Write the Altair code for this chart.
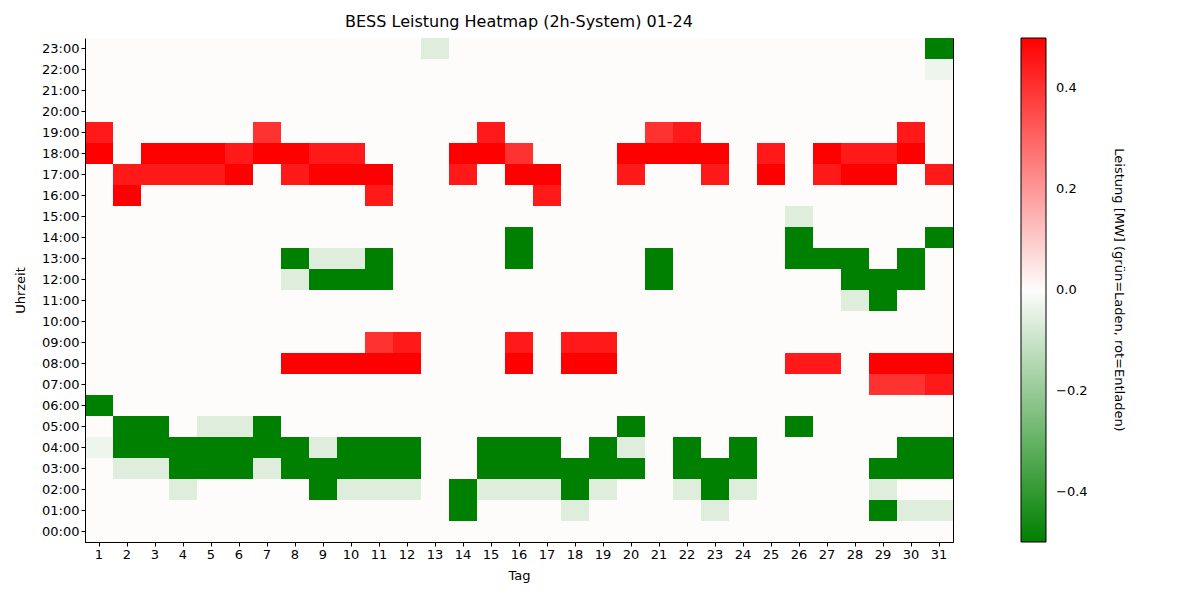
import altair as alt
import pandas as pd

# Leistung [MW] per Tag (1..31) for each hour of the day
# positive = Entladen (rot), negative = Laden (gruen)
days = list(range(1, 32))
hours = ["%02d:00" % h for h in range(24)]

#        days 1-10                                              | 11-20                                                  | 21-31
h00 = [0, 0, 0, 0, 0, 0, 0, 0, 0, 0,  0, 0, 0, 0, 0, 0, 0, 0, 0, 0,  0, 0, 0, 0, 0, 0, 0, 0, 0, 0, 0]
h01 = [0, 0, 0, 0, 0, 0, 0, 0, 0, 0,  0, 0, 0, -0.5, 0, 0, 0, -0.06, 0, 0,  0, 0, -0.06, 0, 0, 0, 0, 0, -0.5, -0.06, -0.06]
h02 = [0, 0, 0, -0.06, 0, 0, 0, 0, -0.5, -0.06,  -0.06, -0.06, 0, -0.5, -0.06, -0.06, -0.06, -0.5, -0.06, 0,  0, -0.06, -0.5, -0.06, 0, 0, 0, 0, -0.06, 0, 0]
h03 = [0, -0.06, -0.06, -0.5, -0.5, -0.5, -0.06, -0.5, -0.5, -0.5,  -0.5, -0.5, 0, 0, -0.5, -0.5, -0.5, -0.5, -0.5, -0.5,  0, -0.5, -0.5, -0.5, 0, 0, 0, 0, -0.5, -0.5, -0.5]
h04 = [-0.03, -0.5, -0.5, -0.5, -0.5, -0.5, -0.5, -0.5, -0.06, -0.5,  -0.5, -0.5, 0, 0, -0.5, -0.5, -0.5, 0, -0.5, -0.06,  0, -0.5, 0, -0.5, 0, 0, 0, 0, 0, -0.5, -0.5]
h05 = [0, -0.5, -0.5, 0, -0.06, -0.06, -0.5, 0, 0, 0,  0, 0, 0, 0, 0, 0, 0, 0, 0, -0.5,  0, 0, 0, 0, 0, -0.5, 0, 0, 0, 0, 0]
h06 = [-0.5, 0, 0, 0, 0, 0, 0, 0, 0, 0,  0, 0, 0, 0, 0, 0, 0, 0, 0, 0,  0, 0, 0, 0, 0, 0, 0, 0, 0, 0, 0]
h07 = [0, 0, 0, 0, 0, 0, 0, 0, 0, 0,  0, 0, 0, 0, 0, 0, 0, 0, 0, 0,  0, 0, 0, 0, 0, 0, 0, 0, 0.4, 0.4, 0.45]
h08 = [0, 0, 0, 0, 0, 0, 0, 0.5, 0.5, 0.5,  0.5, 0.5, 0, 0, 0, 0.5, 0, 0.5, 0.5, 0,  0, 0, 0, 0, 0, 0.45, 0.45, 0, 0.5, 0.5, 0.5]
h09 = [0, 0, 0, 0, 0, 0, 0, 0, 0, 0,  0.4, 0.45, 0, 0, 0, 0.45, 0, 0.45, 0.45, 0,  0, 0, 0, 0, 0, 0, 0, 0, 0, 0, 0]
h10 = [0, 0, 0, 0, 0, 0, 0, 0, 0, 0,  0, 0, 0, 0, 0, 0, 0, 0, 0, 0,  0, 0, 0, 0, 0, 0, 0, 0, 0, 0, 0]
h11 = [0, 0, 0, 0, 0, 0, 0, 0, 0, 0,  0, 0, 0, 0, 0, 0, 0, 0, 0, 0,  0, 0, 0, 0, 0, 0, 0, -0.06, -0.5, 0, 0]
h12 = [0, 0, 0, 0, 0, 0, 0, -0.06, -0.5, -0.5,  -0.5, 0, 0, 0, 0, 0, 0, 0, 0, 0,  -0.5, 0, 0, 0, 0, 0, 0, -0.5, -0.5, -0.5, 0]
h13 = [0, 0, 0, 0, 0, 0, 0, -0.5, -0.06, -0.06,  -0.5, 0, 0, 0, 0, -0.5, 0, 0, 0, 0,  -0.5, 0, 0, 0, 0, -0.5, -0.5, -0.5, 0, -0.5, 0]
h14 = [0, 0, 0, 0, 0, 0, 0, 0, 0, 0,  0, 0, 0, 0, 0, -0.5, 0, 0, 0, 0,  0, 0, 0, 0, 0, -0.5, 0, 0, 0, 0, -0.5]
h15 = [0, 0, 0, 0, 0, 0, 0, 0, 0, 0,  0, 0, 0, 0, 0, 0, 0, 0, 0, 0,  0, 0, 0, 0, 0, -0.06, 0, 0, 0, 0, 0]
h16 = [0, 0.5, 0, 0, 0, 0, 0, 0, 0, 0,  0.45, 0, 0, 0, 0, 0, 0.45, 0, 0, 0,  0, 0, 0, 0, 0, 0, 0, 0, 0, 0, 0]
h17 = [0, 0.45, 0.45, 0.45, 0.45, 0.5, 0, 0.45, 0.5, 0.5,  0.5, 0, 0, 0.45, 0, 0.5, 0.5, 0, 0, 0.45,  0, 0, 0.45, 0, 0.5, 0, 0.45, 0.5, 0.5, 0, 0.45]
h18 = [0.5, 0, 0.5, 0.5, 0.5, 0.45, 0.5, 0.5, 0.45, 0.45,  0, 0, 0, 0.5, 0.5, 0.4, 0, 0, 0, 0.5,  0.5, 0.5, 0.5, 0, 0.45, 0, 0.5, 0.45, 0.45, 0.5, 0]
h19 = [0.45, 0, 0, 0, 0, 0, 0.4, 0, 0, 0,  0, 0, 0, 0, 0.45, 0, 0, 0, 0, 0,  0.4, 0.45, 0, 0, 0, 0, 0, 0, 0, 0.45, 0]
h20 = [0, 0, 0, 0, 0, 0, 0, 0, 0, 0,  0, 0, 0, 0, 0, 0, 0, 0, 0, 0,  0, 0, 0, 0, 0, 0, 0, 0, 0, 0, 0]
h21 = [0, 0, 0, 0, 0, 0, 0, 0, 0, 0,  0, 0, 0, 0, 0, 0, 0, 0, 0, 0,  0, 0, 0, 0, 0, 0, 0, 0, 0, 0, 0]
h22 = [0, 0, 0, 0, 0, 0, 0, 0, 0, 0,  0, 0, 0, 0, 0, 0, 0, 0, 0, 0,  0, 0, 0, 0, 0, 0, 0, 0, 0, 0, -0.03]
h23 = [0, 0, 0, 0, 0, 0, 0, 0, 0, 0,  0, 0, -0.06, 0, 0, 0, 0, 0, 0, 0,  0, 0, 0, 0, 0, 0, 0, 0, 0, 0, -0.5]

rows = [h00, h01, h02, h03, h04, h05, h06, h07, h08, h09, h10, h11,
        h12, h13, h14, h15, h16, h17, h18, h19, h20, h21, h22, h23]

cbar_title = 'Leistung [MW] (grün=Laden, rot=Entladen)'

# long format table for the heatmap
recs = []
for hr, vals in zip(hours, rows):
    for d, v in zip(days, vals):
        recs.append({'Tag': d, 'Uhrzeit': hr, 'Leistung': v})
df = pd.DataFrame(recs)

font = 'DejaVu Sans'
# whole-pixel cells (28 x 21 px) so neighbouring rects leave no antialiased seam
W, H = 31 * 28, 24 * 21
cmap = alt.Scale(domain=[-0.5, 0, 0.5], range=['#008000', '#fdfcfb', '#ff0000'],
                 interpolate='rgb')

heat = alt.Chart(df).mark_rect(strokeWidth=0).encode(
    x=alt.X('Tag:O', sort=days, scale=alt.Scale(paddingInner=0, paddingOuter=0),
            axis=alt.Axis(title='Tag', labelAngle=0, tickSize=4, titlePadding=8)),
    y=alt.Y('Uhrzeit:O', sort=hours[::-1], scale=alt.Scale(paddingInner=0, paddingOuter=0),
            axis=alt.Axis(title='Uhrzeit', tickSize=4, titlePadding=14)),
    color=alt.Color('Leistung:Q', scale=cmap,
                    legend=alt.Legend(title=None,
                                      values=[-0.4, -0.2, 0.0, 0.2, 0.4],
                                      format='.1f',
                                      gradientLength=H,
                                      gradientThickness=25,
                                      gradientStrokeColor='black',
                                      gradientStrokeWidth=1,
                                      offset=68,
                                      labelOffset=10,
                                      labelFontSize=13,
                                      labelFont=font,
                                      labelColor='black'))
)

# colorbar title, rotated like matplotlib's cbar label
cb_label = alt.Chart(pd.DataFrame({'t': [cbar_title]})).mark_text(
    angle=90, align='center', baseline='middle', font=font, fontSize=13, color='black'
).encode(
    x=alt.value(W + 166), y=alt.value(H / 2), text='t:N'
)

chart = (heat + cb_label).properties(
    width=W, height=H,
    title=alt.TitleParams('BESS Leistung Heatmap (2h-System) 01-24',
                          fontSize=16, font=font, fontWeight='normal',
                          color='black', offset=8),
    padding={'left': 6, 'top': 6, 'right': 5, 'bottom': 5}
).configure_view(stroke='black', strokeWidth=1).configure_axis(
    labelFont=font, labelFontSize=13, labelColor='black',
    titleFont=font, titleFontSize=13, titleFontWeight='normal', titleColor='black',
    domainColor='black', tickColor='black', grid=False
)

chart.save("out.html", embed_options={"renderer": "svg", "actions": False})
